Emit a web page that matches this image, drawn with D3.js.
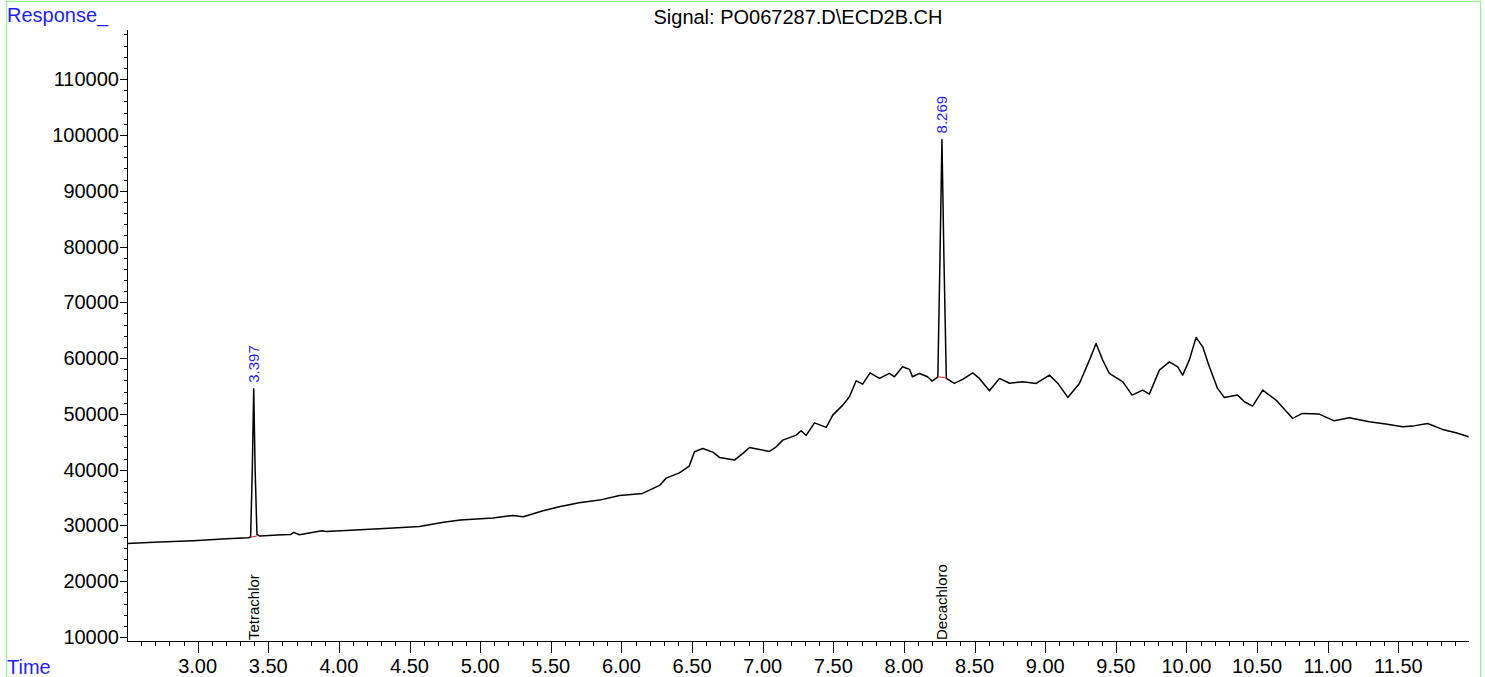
<!DOCTYPE html>
<html>
<head>
<meta charset="utf-8">
<script src="https://cdn.jsdelivr.net/npm/d3@7"></script>
<style>
  body { margin: 0; background: #fff; }
  svg text { font-family: "Liberation Sans", Arial, sans-serif; }
</style>
</head>
<body>
<svg id="chart" width="1485" height="677"></svg>
<script>
// retention time (min) and detector response
let times = [2.50, 2.73, 2.97, 3.205, 3.36, 3.375, 3.387, 3.397, 3.407, 3.42, 3.44,
  3.60, 3.66, 3.68, 3.72, 3.88, 3.91, 4.15, 4.385, 4.57, 4.74, 4.86, 5.09, 5.23, 5.305,
  5.445, 5.56, 5.70, 5.845, 5.987, 6.15, 6.27, 6.317, 6.41, 6.48, 6.517, 6.576, 6.647,
  6.694, 6.80, 6.86, 6.907, 6.977, 7.048, 7.096, 7.142, 7.237, 7.272, 7.308, 7.367,
  7.45, 7.496, 7.567, 7.614, 7.662, 7.708, 7.76, 7.827, 7.897, 7.933, 7.99, 8.04, 8.06,
  8.11, 8.167, 8.20, 8.24, 8.255, 8.269, 8.283, 8.30, 8.357, 8.416, 8.487, 8.534, 8.605,
  8.676, 8.747, 8.84, 8.936, 9.03, 9.09, 9.16, 9.242, 9.313, 9.36, 9.407, 9.454, 9.55,
  9.615, 9.69, 9.737, 9.808, 9.879, 9.938, 9.973, 10.02, 10.068, 10.115, 10.162, 10.22,
  10.268, 10.362, 10.41, 10.468, 10.54, 10.634, 10.752, 10.82, 10.94, 11.047, 11.153,
  11.294, 11.41, 11.53, 11.60, 11.707, 11.813, 11.908, 11.997];

let response = [26790, 27020, 27260, 27620, 27800, 27950, 40000, 54500, 40000, 28400, 28100,
  28350, 28400, 28760, 28330, 29050, 28940, 29230, 29530, 29830, 30600, 30970, 31330, 31810, 31560,
  32630, 33350, 34070, 34550, 35390, 35750, 37180, 38490, 39440, 40640, 43210, 43810, 43150,
  42200, 41720, 42920, 43990, 43630, 43280, 44100, 45300, 46200, 46970, 46140, 48400,
  47580, 49780, 51570, 53060, 55930, 55340, 57360, 56360, 57250, 56650, 58440, 57980, 56650,
  57250, 56650, 55880, 56650, 78000, 99190, 78000, 56360, 55460, 56180, 57360, 56360, 54140,
  56360, 55500, 55750, 55460, 56950, 55460, 52950, 55460, 59640, 62630, 59640, 57250, 55750,
  53370, 54260, 53550, 57850, 59330, 58440, 56950, 59640, 63710, 62020, 58440, 54570,
  52950, 53370, 52170, 51400, 54260, 52470, 49190, 50080, 49960, 48760, 49300,
  48580, 48170, 47690, 47810, 48290, 47220, 46610, 45890];

// integrated peaks
let peakTimes = [3.397, 8.269];
let peakHeights = [54500, 99190];
let peakNames = ['Tetrachlor', 'Decachloro'];
let baseStart = [[3.372, 27900], [8.238, 56650]];
let baseEnd = [[3.425, 28150], [8.30, 56450]];

let yMajor = d3.range(10000, 110001, 10000);
let yMinor = d3.range(10000, 118001, 2000);
let xMajor = d3.range(3.0, 11.51, 0.5);
let xMinor = d3.range(2.6, 11.95, 0.1);

let title = 'Signal: PO067287.D\\ECD2B.CH';

let svg = d3.select('#chart');

let x = d3.scaleLinear().domain([2.5, 12.0]).range([127, 1469]);
let y = d3.scaleLinear().domain([9300, 118800]).range([641, 30]);

// outer frame
svg.append('rect')
    .attr('x', 6.5).attr('y', 1.5)
    .attr('width', 1474).attr('height', 700)
    .attr('fill', 'none')
    .attr('stroke', '#7dfc7d')
    .attr('stroke-width', 1);

// y axis
svg.append('line')
    .attr('x1', 127.5).attr('x2', 127.5)
    .attr('y1', 30).attr('y2', 641)
    .attr('stroke', '#000');

svg.selectAll('.ymin').data(yMinor).enter().append('line')
    .attr('x1', 124).attr('x2', 127.5)
    .attr('y1', d => Math.round(y(d)) + 0.5)
    .attr('y2', d => Math.round(y(d)) + 0.5)
    .attr('stroke', '#000');

svg.selectAll('.ymaj').data(yMajor).enter().append('line')
    .attr('x1', 120).attr('x2', 127.5)
    .attr('y1', d => Math.round(y(d)) + 0.5)
    .attr('y2', d => Math.round(y(d)) + 0.5)
    .attr('stroke', '#000');

svg.selectAll('.ylab').data(yMajor).enter().append('text')
    .attr('x', 119)
    .attr('y', d => y(d) + 7)
    .attr('text-anchor', 'end')
    .style('font-size', '20px')
    .text(d => d);

// x axis
svg.append('line')
    .attr('x1', 127).attr('x2', 1469)
    .attr('y1', 641.5).attr('y2', 641.5)
    .attr('stroke', '#000');

svg.selectAll('.xmin').data(xMinor).enter().append('line')
    .attr('x1', d => Math.round(x(d)) + 0.5)
    .attr('x2', d => Math.round(x(d)) + 0.5)
    .attr('y1', 641.5).attr('y2', 646)
    .attr('stroke', '#000');

svg.selectAll('.xmaj').data(xMajor).enter().append('line')
    .attr('x1', d => Math.round(x(d)) + 0.5)
    .attr('x2', d => Math.round(x(d)) + 0.5)
    .attr('y1', 641.5).attr('y2', 653)
    .attr('stroke', '#000');

svg.selectAll('.xlab').data(xMajor).enter().append('text')
    .attr('x', d => x(d))
    .attr('y', 673)
    .attr('text-anchor', 'middle')
    .style('font-size', '20px')
    .text(d => d.toFixed(2));

// trace
let line = d3.line()
    .x(d => x(d[0]))
    .y(d => y(d[1]));

svg.append('path')
    .datum(d3.zip(times, response))
    .attr('d', line)
    .attr('fill', 'none')
    .attr('stroke', '#000')
    .attr('stroke-width', 1.5)
    .attr('stroke-linejoin', 'round');

// peak baselines
svg.selectAll('.base').data(d3.zip(baseStart, baseEnd)).enter().append('line')
    .attr('x1', d => x(d[0][0])).attr('y1', d => y(d[0][1]))
    .attr('x2', d => x(d[1][0])).attr('y2', d => y(d[1][1]))
    .attr('stroke', '#ff2020')
    .attr('stroke-width', 1);

// retention time labels
svg.selectAll('.rt').data(peakTimes).enter().append('text')
    .attr('transform', (d, i) => 'translate(' + (x(d) + 5.5) + ',' + (y(peakHeights[i]) - 6) + ') rotate(-90)')
    .attr('fill', '#1f1fff')
    .style('font-size', '15px')
    .text(d => d.toFixed(3));

// compound names
svg.selectAll('.cmp').data(peakTimes).enter().append('text')
    .attr('transform', d => 'translate(' + (x(d) + 5.5) + ',640) rotate(-90)')
    .attr('fill', '#000')
    .style('font-size', '15px')
    .text((d, i) => peakNames[i]);

// titles
svg.append('text')
    .attr('x', 7).attr('y', 22)
    .attr('fill', '#1f1fff')
    .style('font-size', '20px')
    .text('Response_');

svg.append('text')
    .attr('x', 7).attr('y', 674)
    .attr('fill', '#1f1fff')
    .style('font-size', '20px')
    .text('Time');

svg.append('text')
    .attr('x', 798).attr('y', 24)
    .attr('text-anchor', 'middle')
    .style('font-size', '20px')
    .text(title);
</script>
</body>
</html>
